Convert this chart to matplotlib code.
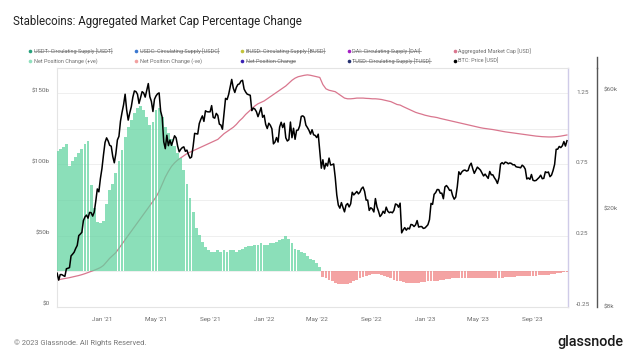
import matplotlib
matplotlib.use('Agg')
import matplotlib.pyplot as plt
import matplotlib.dates as mdates
import matplotlib.ticker as mticker
from matplotlib.lines import Line2D
from matplotlib.transforms import IdentityTransform
import pandas as pd

plt.rcParams['font.family'] = ['Roboto', 'DejaVu Sans']

# ---------------- data ----------------
# weekly series (Sundays)
week_start = '2020-09-20'
week_end = '2023-11-19'

# BTC price, twice weekly (Sunday, Wednesday) from 2020-09-20
btc_start = '2020-09-20'
btc_price = [
    # 2020
    10920, 10240, 10780, 10780, 10680, 10600, 11380, 11430, 11500, 12820,
    13030, 13270, 13740, 14130, 15480, 15700, 15960, 17800, 18400, 18730,
    18200, 19200, 19150, 18550, 19250, 21300, 23870, 23240, 26280, 28850,
    # 2021
    32780, 36770, 38360, 37300, 35790, 35510, 32290, 30430, 33110, 37620,
    38900, 44800, 48580, 52150, 57540, 49700, 45240, 48380,
    51210, 55960, 59300, 58950, 57520, 52800, 55780, 58920,
    58200, 56000, 59770, 63500, 56220, 53800, 49000, 54900,
    56630, 57750, 58240, 49150, 46430, 37000, 34700, 39300, 35680, 37600,
    35800, 37340, 39100, 38350, 35520, 33700, 34500, 35040,
    35290, 33850, 34240, 32820, 31780, 32100, 35400, 39990,
    39880, 39750, 43830, 45590, 47050, 44700, 49320, 48900, 48830, 48850,
    51750, 46400, 46060, 48150, 47260, 43580, 43210, 41560,
    48200, 55360, 54770, 57370, 61530, 65990, 60930, 58480, 61320, 62970,
    63330, 64990, 65470, 60370, 58730, 57570, 57230, 56950,
    49400, 50580, 50100, 48900, 46700, 48630, 50800, 46460,
    # 2022
    47300, 43430, 41830, 43950, 43100, 41740, 36280, 36900, 38480, 36900,
    42410, 44340, 42200, 43930, 38380, 37260, 37710, 44420,
    38420, 41940, 37850, 41140, 41260, 42910, 46820, 47060,
    46450, 43170, 42210, 41150, 39720, 41370, 39470, 39240,
    38470, 39700, 34060, 28940, 31300, 28720, 30290, 29540, 31790, 29800,
    29910, 30110, 26570, 22580, 20550, 19970, 21030, 20110,
    19300, 20550, 20850, 20200, 20800, 23150, 22580, 22950, 23320, 22800,
    23180, 23950, 24300, 23340, 21520, 21530, 19560, 20050,
    19830, 19280, 21830, 20230, 19420, 18480, 18800, 19410,
    19040, 20160, 19420, 19150, 19270, 19130, 19570, 20770, 20630, 20150,
    20920, 15880, 16330, 16670, 16280, 16600, 16460, 17170,
    17110, 16840, 17100, 17800, 16760, 16830, 16840, 16550,
    # 2023
    16610, 16850, 17130, 17950, 20880, 20680, 22710, 23070, 23750, 23720,
    22940, 22960, 21800, 24320, 24640, 24190, 23560, 23640,
    22420, 21710, 22140, 24380, 28000, 27300, 27990, 28350,
    28450, 28170, 28330, 29650, 30320, 28800, 27590, 28420, 29230, 28850,
    28430, 27650, 26930, 27400, 26850, 26330, 28080, 27220,
    27220, 26500, 25940, 25120, 26510, 30080, 30480, 30080,
    30620, 30510, 30170, 30390, 30250, 29860, 29910, 29350, 29230, 29180,
    29050, 29770, 29410, 28700, 26190, 26430, 26100, 27300,
    25870, 25750, 25840, 26220, 26570, 27130, 26250, 26350,
    27990, 27780, 27940, 26750, 27150, 28330, 29990, 34500, 34540, 35420,
    35050, 35650, 37060, 35550, 37360,
]

agg_market_cap_b = [
    # 2020
    18.8, 19.2, 19.6, 20.0, 20.4, 20.9, 21.4, 21.9, 22.5, 23.2, 24.0, 24.8, 25.6, 26.5, 27.5,
    # 2021
    29.0, 31.5, 34.0, 36.0, 38.0, 41.0, 44.0, 47.0, 50.0, 53.0, 56.0, 59.0, 62.0, 65.0, 68.0,
    71.0, 74.0, 77.0, 81.0, 86.0, 91.0, 95.0, 98.5, 101.0, 103.0, 104.5, 106.0, 107.5, 108.5, 109.5,
    110.5, 111.5, 112.5, 113.5, 114.5, 115.5, 116.5, 117.5, 119.5, 121.5, 123.0, 124.5, 126.0, 128.0, 130.5,
    132.5, 135.0, 137.0, 139.0, 141.0, 142.5, 143.5,
    # 2022
    144.5, 146.0, 147.5, 149.0, 150.5, 152.0, 153.5, 155.0, 157.0, 159.0, 160.5, 161.5, 162.0, 162.5, 162.8,
    162.5, 162.0, 161.5, 161.0, 156.0, 153.0, 152.0, 151.5, 151.0, 149.5, 148.0, 146.5, 146.0, 146.0, 146.2,
    146.5, 146.5, 146.5, 146.3, 146.2, 146.0, 146.0, 145.8, 145.5, 145.0, 144.5, 144.0, 143.0, 142.0, 141.6,
    140.5, 139.5, 138.5, 137.5, 136.5, 135.8, 135.2,
    # 2023
    134.5, 134.0, 133.5, 133.2, 132.8, 132.2, 131.7, 131.2, 130.7, 130.2, 129.7, 129.2, 128.7, 128.2, 127.7,
    127.2, 126.7, 126.2, 125.7, 125.3, 125.0, 124.7, 124.4, 124.0, 123.6, 123.2, 122.8, 122.5, 122.2, 121.9,
    121.6, 121.3, 121.0, 120.7, 120.4, 120.1, 119.8, 119.6, 119.4, 119.3, 119.2, 119.2, 119.3, 119.5, 119.8,
    120.2, 120.6,
]

net_position_change = [
    # 2020
    0.85, 0.87, 0.88, 0.90, 0.75, 0.78, 0.81, 0.84, 0.87, 0.90, 0.92, 0.61, 0.45, 0.35, 0.34,
    # 2021
    0.36, 0.48, 0.58, 0.62, 0.70, 0.78, 0.86, 0.95, 1.02, 1.07, 1.12, 1.16, 1.17, 1.14, 1.09,
    1.04, 1.06, 1.14, 1.16, 1.09, 1.02, 0.98, 0.94, 0.89, 0.84, 0.80, 0.72, 0.62, 0.52, 0.42,
    0.31, 0.26, 0.21, 0.17, 0.15, 0.14, 0.14, 0.15, 0.14, 0.15, 0.14, 0.15, 0.15, 0.14, 0.15,
    0.16, 0.17, 0.18, 0.18, 0.19, 0.19, 0.20,
    # 2022
    0.19, 0.19, 0.20, 0.20, 0.21, 0.22, 0.23, 0.25, 0.23, 0.20, 0.16, 0.15, 0.14, 0.13, 0.11,
    0.09, 0.08, 0.06, 0.03, -0.04, -0.05, -0.06, -0.07, -0.08, -0.09, -0.09, -0.09, -0.09, -0.08, -0.07,
    -0.06, -0.05, -0.04, -0.03, -0.025, -0.02, -0.02, -0.02, -0.025, -0.03, -0.04, -0.05, -0.06, -0.065, -0.07,
    -0.075, -0.08, -0.08, -0.08, -0.08, -0.08, -0.075,
    # 2023
    -0.075, -0.07, -0.07, -0.065, -0.065, -0.06, -0.06, -0.055, -0.055, -0.05, -0.05, -0.05, -0.045, -0.045, -0.045,
    -0.045, -0.05, -0.05, -0.05, -0.05, -0.05, -0.05, -0.05, -0.05, -0.048, -0.045, -0.042, -0.04, -0.04, -0.038,
    -0.036, -0.035, -0.034, -0.033, -0.032, -0.03, -0.03, -0.028, -0.026, -0.024, -0.022, -0.02, -0.017, -0.014, -0.01,
    -0.006, -0.002,
]

left_ticks = [0, 50, 100, 150]
left_labels = ['$0', '$50b', '$100b', '$150b']
pct_ticks = [-0.25, 0.25, 0.75, 1.25]
pct_labels = ['-0.25', '0.25', '0.75', '1.25']
btc_ticks = [8000, 20000, 60000]
btc_labels = ['$8k', '$20k', '$60k']

legend_rows = [
    [('USDT: Circulating Supply [USDT]', '#26a17b', True),
     ('USDC: Circulating Supply [USDC]', '#3b78d0', True),
     ('BUSD: Circulating Supply [BUSD]', '#c3c33a', True),
     ('DAI: Circulating Supply [DAI]', '#a51fc4', True),
     ('Aggregated Market Cap [USD]', '#d9768e', False)],
    [('Net Position Change (+ve)', '#8fe0bd', False),
     ('Net Position Change (-ve)', '#f2a0a0', False),
     ('Net Position Change', '#3a22b5', True),
     ('TUSD: Circulating Supply [TUSD]', '#243070', True),
     ('BTC: Price [USD]', '#000000', False)],
]

title_text = 'Stablecoins: Aggregated Market Cap Percentage Change'
footer_text = '\u00a9 2023 Glassnode. All Rights Reserved.'
logo_text = 'glassnode'

# ---------------- figure ----------------
W, H = 640, 360
fig = plt.figure(figsize=(6.4, 3.6), dpi=100)


def fx(px):
    return px / W


def fy(py):
    return 1 - py / H


L, R, T, B = 56.7, 568.3, 68.0, 306.7
ax = fig.add_axes([fx(L), fy(B), fx(R) - fx(L), fy(T) - fy(B)])
ax2 = ax.twinx()
ax3 = ax.twinx()

dates = pd.date_range(week_start, week_end, freq='7D')
df = pd.DataFrame({'cap': agg_market_cap_b, 'net': net_position_change}, index=dates)
btc_dates = pd.date_range(btc_start, periods=len(btc_price), freq='84h')

# pink aggregated market cap (bottom layer)
ax.plot(df.index, df['cap'], color='#d9768e', lw=0.9, zorder=2)

# bars on percentage axis
pos = df['net'].clip(lower=0)
neg = df['net'].clip(upper=0)
ax2.bar(df.index, pos, width=6.4, color='#5fd39f', alpha=0.72, linewidth=0, zorder=2)
ax2.bar(df.index, neg, width=6.4, color='#f08080', alpha=0.72, linewidth=0, zorder=2)

# BTC price on log axis
ax3.plot(btc_dates, btc_price, color='#000000', lw=1.1, zorder=3)

# limits
ax.set_xlim(pd.Timestamp('2020-09-19'), pd.Timestamp('2023-11-22'))
span = B - T
ax.set_ylim(0, span / 1.424)
ax2.set_ylim(-0.25, -0.25 + span / 141.2)
ax3.set_yscale('log')
ax3.set_ylim(8000, 8000 * 10 ** (span / 248.0))

lab_col = '#6b6b6b'
fs_tick = 4.6

# left axis
grid_vals = [0, 25, 50, 75, 100, 125, 150]
ax.set_yticks(grid_vals)
ax.set_yticklabels([left_labels[left_ticks.index(v)] if v in left_ticks else '' for v in grid_vals])
ax.grid(axis='y', color='#efefef', lw=0.7, zorder=0)
ax.set_axisbelow(True)
ax.tick_params(axis='y', length=0, pad=5.0, labelsize=fs_tick, labelcolor=lab_col)
plt.setp(ax.get_yticklabels(), va='bottom')

# x axis
ax.xaxis.set_major_locator(mdates.MonthLocator(bymonth=[1, 5, 9]))
ax.xaxis.set_major_formatter(mdates.DateFormatter("%b '%y"))
ax.tick_params(axis='x', length=0, pad=7.5, labelsize=fs_tick, labelcolor=lab_col)

for s in ['left', 'bottom', 'top']:
    ax.spines[s].set_color('#e4e4e4')
    ax.spines[s].set_linewidth(0.8)
ax.spines['right'].set_color('#cfcbe8')
ax.spines['right'].set_linewidth(1.0)

# pct axis
ax2.set_yticks(pct_ticks)
ax2.set_yticklabels(pct_labels)
ax2.tick_params(axis='y', length=0, pad=5.5, labelsize=fs_tick, labelcolor=lab_col)
plt.setp(ax2.get_yticklabels(), va='bottom')
for s in ax2.spines.values():
    s.set_visible(False)

# btc axis
ax3.yaxis.set_major_locator(mticker.FixedLocator(btc_ticks))
ax3.yaxis.set_major_formatter(mticker.FixedFormatter(btc_labels))
ax3.yaxis.set_minor_locator(mticker.NullLocator())
ax3.tick_params(axis='y', length=0, pad=5.5, labelsize=fs_tick, labelcolor=lab_col)
plt.setp(ax3.get_yticklabels(), va='bottom')
for s in ['left', 'top', 'bottom']:
    ax3.spines[s].set_visible(False)
ax3.spines['right'].set_position(('outward', (596.5 - R) * 0.72))
ax3.spines['right'].set_color('#555555')
ax3.spines['right'].set_linewidth(1.0)

# extension of the BTC axis line above the plot
fig.add_artist(Line2D([fx(596.5), fx(596.5)], [fy(57), fy(T)], color='#555555', lw=1.0))

# ---------------- texts ----------------
title = fig.text(fx(13), fy(22), title_text, fontsize=8.3, color='#222222', va='center', ha='left')
footer = fig.text(fx(14), fy(343), footer_text, fontsize=4.6, color='#777777', va='center', ha='left')
logo = fig.text(fx(623), fy(342), logo_text, fontsize=9.5, color='#1a1a1a', va='center', ha='right',
                fontweight='medium')

col_x = [30, 136, 242, 349, 455]
row_y = [51, 61]
leg_texts = []
for r, row in enumerate(legend_rows):
    for c, (lab, colr, struck) in enumerate(row):
        fig.add_artist(Line2D([fx(col_x[c])], [fy(row_y[r])], marker='o', markersize=2.6,
                              color=colr, markeredgewidth=0, linestyle='none'))
        t = fig.text(fx(col_x[c] + 3.5), fy(row_y[r]), lab, fontsize=4.0, color='#6e6e6e',
                     va='center', ha='left')
        leg_texts.append((t, struck))

fig.canvas.draw()
renderer = fig.canvas.get_renderer()


def fit(t, target_w):
    bb = t.get_window_extent(renderer)
    t.set_fontsize(t.get_fontsize() * target_w / bb.width)


fit(title, 289)
fit(footer, 132)
fit(logo, 67)
fig.canvas.draw()

for t, struck in leg_texts:
    if struck:
        bb = t.get_window_extent(renderer)
        ym = (bb.y0 + bb.y1) / 2 + 0.3
        fig.add_artist(Line2D([bb.x0, bb.x1], [ym, ym], color='#8a8a8a', lw=0.5,
                              transform=IdentityTransform()))

fig.savefig('out.png', dpi=100)
